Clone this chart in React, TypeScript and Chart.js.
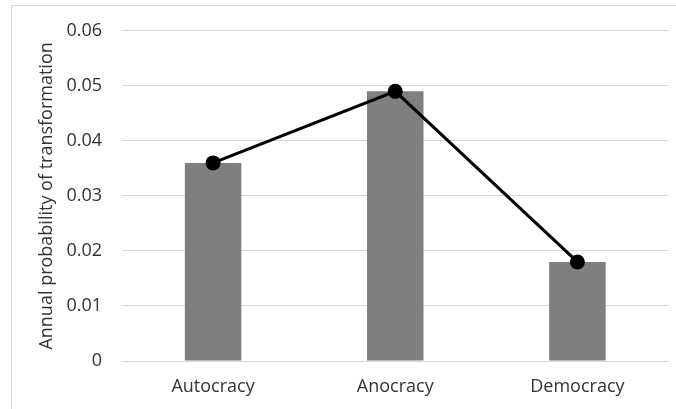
import React, { useEffect, useRef } from "react";
import { Chart, registerables } from "chart.js";

Chart.register(...registerables);

const categories = ["Autocracy", "Anocracy", "Democracy"];
const barValues = [0.036, 0.049, 0.018];
const lineValues = [0.036, 0.049, 0.018];
const yTicks = [0, 0.01, 0.02, 0.03, 0.04, 0.05, 0.06];
const yTitle = "Annual probability of transformation";

export default function App() {
  const ref = useRef<HTMLCanvasElement | null>(null);

  useEffect(() => {
    if (!ref.current) return;
    const font = "'Open Sans', 'Liberation Sans', sans-serif";
    const chart = new Chart(ref.current, {
      type: "bar",
      data: {
        labels: categories,
        datasets: [
          {
            type: "line",
            data: lineValues,
            borderColor: "#000000",
            backgroundColor: "#000000",
            borderWidth: 3,
            pointRadius: 7.5,
            pointBackgroundColor: "#000000",
            pointBorderColor: "#000000",
            pointBorderWidth: 0,
            tension: 0,
            order: 0,
          } as any,
          {
            type: "bar",
            data: barValues,
            backgroundColor: "#7f7f7f",
            borderWidth: 0,
            categoryPercentage: 1,
            barPercentage: 0.31,
            order: 1,
          },
        ],
      },
      options: {
        responsive: false,
        animation: false,
        maintainAspectRatio: false,
        layout: { padding: { left: 0, right: 7, top: 28, bottom: 0 } },
        plugins: {
          legend: { display: false },
          tooltip: { enabled: false },
        },
        scales: {
          x: {
            offset: true,
            grid: { display: false, drawTicks: false },
            border: { display: false },
            ticks: {
              color: "#333333",
              font: { family: font, size: 18 },
              padding: 15,
              maxRotation: 0,
            },
            afterFit: (s: any) => {
              s.height = 48;
            },
          },
          y: {
            min: 0,
            max: 0.06,
            grid: { color: "#d9d9d9", lineWidth: 1, drawTicks: false },
            border: { display: false },
            afterBuildTicks: (s: any) => {
              s.ticks = yTicks.map((v) => ({ value: v }));
            },
            ticks: {
              color: "#333333",
              font: { family: font, size: 18 },
              padding: 20,
              callback: (v: any) => String(Number(v)),
            },
            title: {
              display: true,
              text: yTitle,
              color: "#333333",
              font: { family: font, size: 18 },
              padding: { top: 36, bottom: 0 },
            },
            afterFit: (s: any) => {
              s.width = 122;
            },
          },
        },
      },
    });
    return () => chart.destroy();
  }, []);

  return (
    <div style={{ position: "fixed", left: 0, top: 0, width: 676, height: 409, background: "#ffffff", overflow: "hidden" }}>
      <div
        style={{
          position: "absolute",
          left: 11,
          top: 5,
          width: 700,
          height: 420,
          borderLeft: "1px solid #d9d9d9",
          borderTop: "1px solid #d9d9d9",
        }}
      />
      <canvas ref={ref} width={676} height={409} style={{ position: "absolute", left: 0, top: 0 }} />
    </div>
  );
}
